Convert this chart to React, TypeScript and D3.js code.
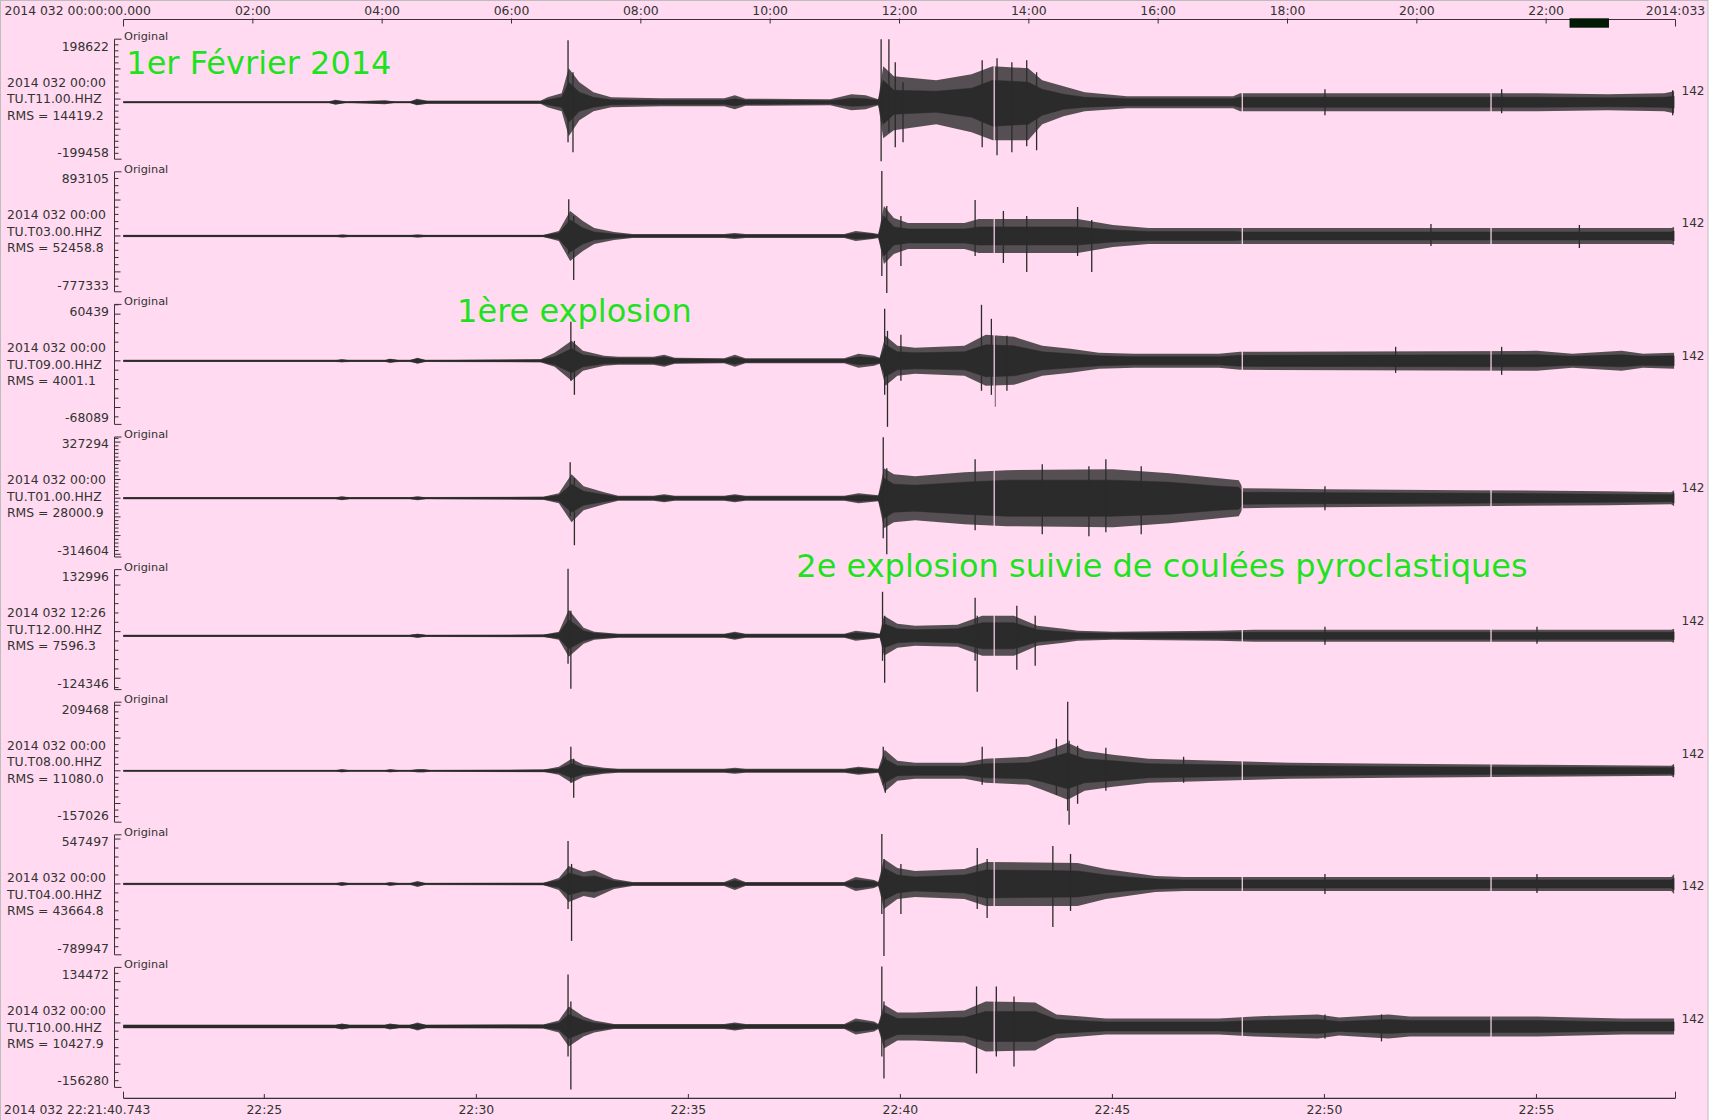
import React, { useEffect } from "react";
import * as d3 from "d3";

// ---------- DATA ----------
const stations = ["TU.T11.00.HHZ", "TU.T03.00.HHZ", "TU.T09.00.HHZ", "TU.T01.00.HHZ", "TU.T12.00.HHZ", "TU.T08.00.HHZ", "TU.T04.00.HHZ", "TU.T10.00.HHZ"];
const startLabels = ["2014 032 00:00", "2014 032 00:00", "2014 032 00:00", "2014 032 00:00", "2014 032 12:26", "2014 032 00:00", "2014 032 00:00", "2014 032 00:00"];
const rmsValues = [14419.2, 52458.8, 4001.1, 28000.9, 7596.3, 11080.0, 43664.8, 10427.9];
const maxValues = [198622, 893105, 60439, 327294, 132996, 209468, 547497, 134472];
const minValues = [-199458, -777333, -68089, -314604, -124346, -157026, -789947, -156280];
const baselineValues = [-10500, 0, 0, 0, -9000, 0, 0, -8500];
const rightLabels = ["142", "142", "142", "142", "142", "142", "142", "142"];
const gapTimes = [1232, 1583, 1935]; // seconds after window start

const topAxisFirst = "2014 032 00:00:00.000";
const topAxisLast = "2014:033";
const bottomAxisFirst = "2014 032 22:21:40.743";
const windowSeconds = 2196;
const traceEnd = 2194;

const annotations = [
  { text: "1er Février 2014", t: 4, panel: 0, dy: 35 },
  { text: "1ère explosion", t: 472, panel: 2, dy: 17.2 },
  { text: "2e explosion suivie de coulées pyroclastiques", t: 952, panel: 4, dy: 7.6 },
];

type E = [number, number, number, number, number];
// envelope keypoints: [seconds, dense core above, dense core below, peaks above, peaks below] in counts (relative to trace baseline)
const envT11: E[] = [
  [0, 2000, 2000, 2000, 2000], [290, 2000, 2000, 2000, 2000], [300, 5000, 5000, 8300, 8300], [315, 2000, 2000, 2000, 2000],
  [370, 3300, 3300, 6600, 6600], [385, 2000, 2000, 2000, 2000], [405, 2000, 2000, 2000, 2000], [415, 6600, 6600, 11600, 10000],
  [430, 3300, 3300, 5000, 5000], [590, 3300, 3300, 5000, 5000], [600, 8300, 8300, 16600, 16600], [620, 16600, 16600, 29900, 29900],
  [630, 66300, 66300, 112800, 112800], [645, 33200, 29900, 66300, 59700], [665, 16600, 16600, 33200, 29900], [690, 8300, 8300, 16600, 16600],
  [760, 6600, 6600, 13300, 13300], [850, 6600, 6600, 13300, 13300], [865, 11600, 11600, 23200, 23200], [880, 6600, 6600, 11600, 11600],
  [1000, 5000, 5000, 10000, 10000], [1030, 13300, 13300, 26500, 26500], [1050, 11600, 11600, 23200, 23200], [1068, 6600, 6600, 10000, 10000],
  [1075, 73000, 73000, 119400, 119400], [1090, 39800, 39800, 86200, 92900], [1150, 36500, 33200, 73000, 73000], [1200, 46400, 49800, 92900, 99500],
  [1230, 73000, 79600, 119400, 126000], [1280, 66300, 73000, 112800, 126000], [1300, 43100, 43100, 73000, 73000], [1330, 26500, 23200, 53100, 46400],
  [1360, 16600, 16600, 33200, 29900], [1420, 11600, 11600, 19900, 19900], [1570, 11600, 11600, 19900, 19900], [1580, 16600, 16600, 29900, 29900],
  [2000, 16600, 16600, 29900, 29900], [2100, 14900, 14900, 26500, 26500], [2180, 16600, 16600, 29900, 29900], [2194, 19900, 19900, 36500, 36500],
];
const envT03: E[] = [
  [0, 9700, 9700, 9700, 9700], [300, 9700, 9700, 9700, 9700], [310, 13900, 13900, 20900, 20900], [320, 9700, 9700, 9700, 9700],
  [405, 9700, 9700, 9700, 9700], [416, 13900, 13900, 20900, 20900], [428, 9700, 9700, 9700, 9700], [594, 9700, 9700, 13900, 13900],
  [616, 41800, 41800, 69600, 69600], [632, 222700, 222700, 348000, 348000], [650, 111400, 111400, 208800, 208800], [666, 55700, 55700, 111400, 111400],
  [694, 27800, 27800, 55700, 55700], [720, 13900, 13900, 27800, 27800], [850, 13900, 13900, 27800, 27800], [865, 20900, 20900, 41800, 41800],
  [880, 13900, 13900, 27800, 27800], [1020, 13900, 13900, 27800, 27800], [1036, 41800, 41800, 69600, 69600], [1060, 27800, 27800, 41800, 41800],
  [1068, 13900, 13900, 27800, 27800], [1076, 278400, 278400, 417600, 389800], [1090, 125300, 125300, 250600, 250600], [1110, 97400, 97400, 181000, 181000],
  [1190, 97400, 97400, 181000, 181000], [1210, 125300, 125300, 236600, 236600], [1350, 125300, 125300, 236600, 236600], [1400, 83500, 83500, 153100, 153100],
  [1450, 62600, 62600, 111400, 111400], [1570, 62600, 62600, 111400, 111400], [1585, 55700, 55700, 111400, 111400], [2190, 55700, 55700, 111400, 111400],
  [2194, 69600, 69600, 125300, 125300],
];
const envT09: E[] = [
  [0, 750, 750, 750, 750], [300, 750, 750, 750, 750], [309, 1100, 1100, 1600, 1600], [320, 750, 750, 750, 750], [370, 750, 750, 750, 750],
  [377, 1600, 1600, 2100, 2100], [390, 750, 750, 750, 750], [405, 750, 750, 750, 750], [416, 2100, 2100, 3200, 3200], [428, 750, 750, 750, 750],
  [590, 1100, 1100, 1600, 1600], [610, 4300, 4300, 8600, 6400], [634, 12900, 12900, 21400, 21400], [650, 6400, 6400, 10700, 10700],
  [680, 3200, 3200, 5400, 5400], [700, 2700, 2700, 4300, 4300], [750, 2700, 2700, 4300, 4300], [765, 4300, 4300, 6400, 6400],
  [780, 2100, 2100, 3200, 3200], [850, 1600, 1600, 2700, 2700], [865, 3700, 3700, 6400, 6400], [880, 1600, 1600, 2700, 2700],
  [1020, 1600, 1600, 2700, 2700], [1040, 4300, 4300, 7500, 7500], [1062, 3200, 3200, 5400, 5400], [1070, 2100, 2100, 3200, 3200],
  [1078, 17100, 17100, 26800, 26800], [1095, 9600, 9600, 16100, 16100], [1120, 8600, 8600, 13900, 13900], [1190, 9600, 9600, 16100, 16100],
  [1220, 17100, 17100, 27800, 26800], [1260, 16100, 16100, 25700, 25700], [1300, 9600, 9600, 16100, 16100], [1340, 7500, 7500, 12900, 12900],
  [1380, 5400, 5400, 8600, 8600], [1430, 4300, 4300, 7500, 7500], [1550, 4300, 4300, 7500, 7500], [1580, 5900, 5900, 9600, 9600],
  [2000, 6400, 6400, 10700, 10700], [2050, 4800, 4800, 7500, 7500], [2120, 6400, 6400, 10700, 10700], [2150, 4800, 4800, 7500, 7500],
  [2194, 5400, 5400, 8600, 8600],
];
const envT01: E[] = [
  [0, 3700, 3700, 3700, 3700], [300, 3700, 3700, 3700, 3700], [309, 5300, 5300, 10700, 10700], [320, 3700, 3700, 3700, 3700],
  [405, 3700, 3700, 3700, 3700], [416, 5300, 5300, 10700, 10700], [428, 3700, 3700, 3700, 3700], [594, 5300, 5300, 8000, 8000],
  [616, 16000, 16000, 26700, 26700], [634, 74900, 74900, 128400, 128400], [651, 37400, 37400, 64200, 64200], [680, 18700, 18700, 32100, 32100],
  [700, 8000, 8000, 13400, 13400], [750, 8000, 8000, 13400, 13400], [765, 13400, 13400, 21400, 21400], [780, 8000, 8000, 13400, 13400],
  [850, 8000, 8000, 13400, 13400], [865, 13400, 13400, 21400, 21400], [880, 8000, 8000, 13400, 13400], [1020, 8000, 8000, 13400, 13400],
  [1040, 16000, 16000, 26700, 26700], [1068, 10700, 10700, 16000, 16000], [1076, 107000, 107000, 160500, 160500], [1090, 74900, 74900, 128400, 128400],
  [1120, 69500, 69500, 117700, 117700], [1190, 85600, 85600, 139100, 139100], [1250, 96300, 96300, 149800, 149800], [1400, 96300, 96300, 155100, 155100],
  [1480, 85600, 85600, 133700, 133700], [1550, 64200, 64200, 107000, 107000], [1578, 58800, 58800, 96300, 96300], [1584, 32100, 32100, 53500, 53500],
  [1700, 29400, 29400, 48100, 48100], [1900, 26700, 26700, 42800, 42800], [2100, 21400, 21400, 37400, 37400], [2190, 18700, 18700, 32100, 32100],
  [2194, 26700, 26700, 42800, 42800],
];
const envT12: E[] = [
  [0, 1500, 1500, 1500, 1500], [405, 1500, 1500, 1500, 1500], [416, 3200, 3200, 4300, 4300], [428, 1500, 1500, 1500, 1500],
  [594, 2100, 2100, 2100, 2100], [616, 5400, 5400, 8600, 8600], [630, 34300, 27900, 55800, 45000], [651, 10700, 10700, 17200, 17200],
  [666, 5400, 5400, 8600, 8600], [700, 2600, 2600, 4300, 4300], [850, 2600, 2600, 4300, 4300], [865, 5400, 5400, 8600, 8600],
  [880, 2600, 2600, 4300, 4300], [1020, 2600, 2600, 4300, 4300], [1036, 6400, 6400, 10700, 10700], [1062, 4300, 4300, 6400, 6400],
  [1070, 2600, 2600, 4300, 4300], [1076, 25700, 25700, 42900, 42900], [1095, 15000, 15000, 25700, 25700], [1120, 12900, 12900, 21400, 21400],
  [1180, 15000, 15000, 23600, 23600], [1215, 27900, 27900, 42900, 42900], [1260, 27900, 27900, 42900, 42900], [1293, 12900, 12900, 21400, 21400],
  [1330, 8600, 8600, 15000, 15000], [1350, 6400, 6400, 10700, 10700], [1400, 5400, 5400, 8600, 8600], [1550, 6400, 6400, 10700, 10700],
  [1600, 7500, 7500, 12900, 12900], [2190, 7500, 7500, 12900, 12900], [2194, 8600, 8600, 15000, 15000],
];
const envT08: E[] = [
  [0, 1500, 1500, 1500, 1500], [300, 1500, 1500, 1500, 1500], [309, 3100, 3100, 4600, 4600], [320, 1500, 1500, 1500, 1500],
  [370, 1500, 1500, 1500, 1500], [377, 3100, 3100, 4600, 4600], [390, 1500, 1500, 1500, 1500], [405, 1500, 1500, 1500, 1500],
  [416, 3100, 3100, 4600, 4600], [425, 3100, 3100, 4600, 4600], [435, 1500, 1500, 1500, 1500], [594, 3100, 3100, 3100, 3100],
  [616, 6100, 6100, 12200, 12200], [634, 21400, 21400, 36600, 36600], [651, 10700, 10700, 18300, 18300], [680, 4600, 4600, 9200, 9200],
  [700, 3100, 3100, 6100, 6100], [850, 3100, 3100, 6100, 6100], [865, 4600, 4600, 9200, 9200], [880, 3100, 3100, 6100, 6100],
  [1020, 3100, 3100, 6100, 6100], [1040, 7600, 7600, 12200, 12200], [1068, 3100, 3100, 6100, 6100], [1077, 36600, 36600, 64100, 64100],
  [1095, 15300, 15300, 30500, 30500], [1120, 13700, 13700, 24400, 24400], [1190, 13700, 13700, 24400, 24400], [1220, 21400, 21400, 36600, 36600],
  [1280, 24400, 24400, 42800, 42800], [1300, 33600, 33600, 55000, 58000], [1336, 55000, 55000, 85500, 88600], [1360, 36600, 36600, 61100, 61100],
  [1400, 30500, 30500, 48900, 48900], [1450, 21400, 21400, 36600, 36600], [1550, 18300, 18300, 30500, 30500], [1650, 15300, 15300, 24400, 24400],
  [1800, 12200, 12200, 21400, 21400], [2000, 10700, 10700, 18300, 18300], [2190, 9200, 9200, 15300, 15300], [2194, 12200, 12200, 21400, 21400],
];
const envT04: E[] = [
  [0, 7800, 7800, 7800, 7800], [300, 7800, 7800, 7800, 7800], [309, 11100, 11100, 22300, 22300], [320, 7800, 7800, 7800, 7800],
  [370, 7800, 7800, 7800, 7800], [377, 11100, 11100, 22300, 22300], [390, 7800, 7800, 7800, 7800], [405, 7800, 7800, 7800, 7800],
  [416, 16700, 16700, 33400, 33400], [428, 7800, 7800, 7800, 7800], [594, 11100, 11100, 11100, 11100], [616, 39000, 39000, 66900, 66900],
  [630, 122600, 122600, 200600, 200600], [651, 78000, 78000, 133700, 133700], [666, 89200, 89200, 156000, 156000], [694, 33400, 33400, 55700, 55700],
  [720, 11100, 11100, 22300, 22300], [850, 11100, 11100, 22300, 22300], [865, 39000, 39000, 66900, 66900], [880, 11100, 11100, 22300, 22300],
  [1020, 11100, 11100, 22300, 22300], [1036, 44600, 44600, 78000, 78000], [1062, 27900, 27900, 44600, 44600], [1068, 11100, 11100, 22300, 22300],
  [1076, 178300, 178300, 278600, 278600], [1095, 100300, 100300, 178300, 167200], [1120, 78000, 78000, 144900, 144900], [1190, 100300, 100300, 167200, 167200],
  [1220, 156000, 156000, 245200, 245200], [1350, 144900, 144900, 234000, 245200], [1390, 100300, 100300, 167200, 167200], [1420, 78000, 78000, 133700, 133700],
  [1460, 55700, 55700, 89200, 89200], [1500, 44600, 44600, 78000, 78000], [2190, 44600, 44600, 78000, 78000], [2194, 66900, 66900, 111400, 111400],
];
const envT10: E[] = [
  [0, 3600, 3600, 3600, 3600], [300, 3600, 3600, 3600, 3600], [309, 4800, 4800, 7300, 7300], [320, 3600, 3600, 3600, 3600],
  [370, 3600, 3600, 3600, 3600], [377, 4800, 4800, 7300, 7300], [390, 3600, 3600, 3600, 3600], [405, 3600, 3600, 3600, 3600],
  [416, 6100, 6100, 9700, 9700], [428, 3600, 3600, 3600, 3600], [594, 3600, 3600, 4800, 4800], [616, 8500, 8500, 14500, 14500],
  [630, 29100, 29100, 48500, 48500], [651, 14500, 14500, 24200, 24200], [666, 8500, 8500, 14500, 14500], [694, 3600, 3600, 6100, 6100],
  [850, 3600, 3600, 6100, 6100], [865, 6100, 6100, 9700, 9700], [880, 3600, 3600, 6100, 6100], [1020, 3600, 3600, 6100, 6100],
  [1036, 12100, 12100, 19400, 19400], [1062, 7300, 7300, 12100, 12100], [1068, 3600, 3600, 6100, 6100], [1076, 33900, 33900, 53300, 53300],
  [1095, 19400, 19400, 33900, 33900], [1120, 19400, 19400, 33900, 33900], [1190, 21800, 21800, 38800, 38800], [1220, 36300, 36300, 60600, 60600],
  [1290, 36300, 36300, 58200, 58200], [1320, 17000, 17000, 29100, 29100], [1390, 10900, 10900, 19400, 19400], [1550, 10900, 10900, 19400, 19400],
  [1600, 14500, 14500, 24200, 24200], [1690, 17000, 17000, 29100, 29100], [1720, 12100, 12100, 21800, 21800], [1790, 17000, 17000, 29100, 29100],
  [1820, 14500, 14500, 24200, 24200], [2000, 14500, 14500, 24200, 24200], [2120, 10900, 10900, 19400, 19400], [2194, 10900, 10900, 19400, 19400],
];

// isolated peaks: [seconds, peak above baseline, peak below baseline] in counts
const spkT11: [number, number, number][] = [
  [629, 205700, 133000], [636, 99500, 165900], [1072, 209000, 195700], [1083, 209000, 99500], [1092, 132700, 149300],
  [1103, 66300, 132700], [1215, 139300, 149300], [1236, 146000, 175800], [1257, 132700, 165900], [1278, 139300, 146000],
  [1292, 99500, 159200], [1700, 43100, 43100], [1950, 43100, 36500], [2192, 39800, 43100],
];
const spkT03: [number, number, number][] = [
  [630, 510900, 250600], [637, 278400, 612500], [1073, 904800, 557000], [1080, 417600, 793400], [1100, 278400, 417600],
  [1205, 501000, 278400], [1245, 348000, 375800], [1278, 278400, 501100], [1350, 403700, 278400], [1370, 222700, 501100],
  [1850, 167000, 139200], [2060, 153100, 167000],
];
const spkT09: [number, number, number][] = [
  [633, 41800, 21400], [638, 21400, 36400], [1077, 55700, 36400], [1081, 32100, 70700], [1100, 27800, 21400],
  [1214, 60000, 32100], [1228, 45000, 36400], [1233, 25700, 49300], [1250, 26800, 32100], [1800, 15000, 12900],
  [1950, 15000, 15000],
];
const spkT01: [number, number, number][] = [
  [632, 192600, 96300], [638, 107000, 251400], [1075, 326300, 214000], [1080, 160500, 299500], [1205, 208600, 171200],
  [1300, 181900, 192600], [1366, 171200, 203300], [1390, 208600, 181900], [1440, 171200, 192600], [1700, 64200, 64200],
];
const spkT12: [number, number, number][] = [
  [629, 143700, 60000], [633, 53600, 113700], [1074, 94400, 53600], [1077, 42900, 100800], [1205, 81500, 53600],
  [1208, 42900, 120100], [1264, 64400, 72900], [1290, 42900, 64400], [1700, 19300, 19300], [2000, 19300, 17200],
];
const spkT08: [number, number, number][] = [
  [633, 73300, 36600], [637, 36600, 82500], [1075, 73300, 42800], [1078, 42800, 67200], [1215, 73300, 42800],
  [1320, 97700, 73300], [1336, 210700, 122200], [1338, 91600, 164900], [1350, 76400, 100800], [1390, 70200, 61100],
  [1500, 42800, 36600],
];
const spkT04: [number, number, number][] = [
  [629, 479200, 278600], [634, 222900, 635300], [1073, 557200, 334300], [1076, 278600, 802400], [1100, 222900, 334300],
  [1208, 401200, 278600], [1222, 278600, 378900], [1315, 423500, 479200], [1340, 334300, 300900], [1700, 111400, 111400],
  [2000, 111400, 100300],
];
const spkT10: [number, number, number][] = [
  [629, 126000, 72700], [633, 60600, 152600], [1073, 145400, 72700], [1076, 60600, 126000], [1207, 96900, 113900],
  [1235, 96900, 72700], [1260, 72700, 96900], [1700, 29100, 29100], [1780, 29100, 36300],
];

const envelopes = [envT11, envT03, envT09, envT01, envT12, envT08, envT04, envT10];
const spikes = [spkT11, spkT03, spkT09, spkT01, spkT12, spkT08, spkT04, spkT10];

// ---------- HELPERS ----------
function tickStep(range: number): number {
  let best = 1;
  for (let n = 0; n < 9; n++) {
    for (const m of [1, 2]) {
      const s = m * Math.pow(10, n);
      if (range / s >= 10) best = s;
    }
  }
  return best;
}

const FONT = "DejaVu Sans";
const TXT = "#333333";
const TRACE = "#2b2b2b";
const BG = "#ffdaf0";
const GREEN = "#1fe21f";

export default function App() {
  useEffect(() => {
    document.body.style.margin = "0";
  }, []);

  const W = 1711;
  const H = 1120;
  const xLeft = 123.5;
  const xRight = 1675.5;
  const axisX = 114.5;
  const panelTop0 = 39.2;
  const panelStep = 132.6;
  const panelH = 120;

  const x = d3.scaleLinear().domain([0, windowSeconds]).range([xLeft, xRight]);
  const dayStart = new Date(Date.UTC(2014, 1, 1, 0, 0, 0));
  const dayEnd = new Date(Date.UTC(2014, 1, 2, 0, 0, 0));
  const dayScale = d3.scaleUtc().domain([dayStart, dayEnd]).range([xLeft, xRight]);
  const winStart = new Date(Date.UTC(2014, 1, 1, 22, 21, 40, 743));
  const winEnd = new Date(winStart.getTime() + windowSeconds * 1000);
  const winScale = d3.scaleUtc().domain([winStart, winEnd]).range([xLeft, xRight]);
  const hm = d3.utcFormat("%H:%M");

  const topTicks = dayScale.ticks(d3.utcHour.every(2)!);
  const botTicks = winScale.ticks(d3.utcMinute.every(5)!);

  const topY = 19.5;
  const botY = 1098.3;

  return (
    <svg width={W} height={H} style={{ position: "absolute", left: 0, top: 0, display: "block" }} fontFamily={FONT}>
      <rect x={0} y={0} width={W} height={H} fill="#ffffff" />
      <rect x={0.5} y={0.5} width={1707.5} height={H} fill={BG} stroke="#bdbdbd" strokeWidth={1} />

      {/* top (day) axis */}
      <line x1={xLeft} x2={xRight} y1={topY} y2={topY} stroke={TXT} strokeWidth={1.2} />
      {topTicks.map((d, i) => {
        const px = dayScale(d);
        const isEnd = i === 0 || i === topTicks.length - 1;
        return <line key={"tt" + i} x1={px} x2={px} y1={isEnd ? topY : topY - 1} y2={isEnd ? topY + 7 : topY + 4} stroke={TXT} strokeWidth={1} />;
      })}
      {topTicks.map((d, i) => {
        if (i === 0) return null;
        const last = i === topTicks.length - 1;
        return (
          <text key={"tl" + i} x={dayScale(d)} y={15} fontSize={12.4} fill={TXT} textAnchor="middle">
            {last ? topAxisLast : hm(d)}
          </text>
        );
      })}
      <text x={4.5} y={15} fontSize={12.4} fill={TXT}>{topAxisFirst}</text>
      <rect x={dayScale(winStart)} y={18.3} width={dayScale(winEnd) - dayScale(winStart)} height={9.4} fill="#001a06" />

      {/* panels */}
      {stations.map((st, i) => {
        const top = panelTop0 + i * panelStep;
        const bottom = top + panelH;
        const y = d3.scaleLinear().domain([minValues[i], maxValues[i]]).range([bottom, top]);
        const base = baselineValues[i];
        const step = tickStep(maxValues[i] - minValues[i]);
        const ticks = d3.range(Math.ceil(minValues[i] / step), Math.floor(maxValues[i] / step) + 1).map((k) => k * step);
        const coreArea = d3
          .area<E>()
          .x((d) => x(d[0]))
          .y0((d) => y(base - d[2]))
          .y1((d) => y(base + d[1]));
        const peakArea = d3
          .area<E>()
          .x((d) => x(d[0]))
          .y0((d) => y(base - d[4]))
          .y1((d) => y(base + d[3]));
        return (
          <g key={st}>
            {/* y axis */}
            <line x1={axisX} x2={axisX} y1={top} y2={bottom} stroke={TXT} strokeWidth={1} />
            <line x1={axisX} x2={axisX + 7} y1={top} y2={top} stroke={TXT} strokeWidth={1} />
            <line x1={axisX} x2={axisX + 7} y1={bottom} y2={bottom} stroke={TXT} strokeWidth={1} />
            {ticks.map((v) => {
              const major = Math.round(v / step) % 5 === 0;
              return <line key={v} x1={axisX} x2={axisX + (major ? 6 : 4)} y1={y(v)} y2={y(v)} stroke={TXT} strokeWidth={1} />;
            })}
            <text x={109} y={top + 11.4} fontSize={12.4} fill={TXT} textAnchor="end">{maxValues[i]}</text>
            <text x={109} y={bottom - 2} fontSize={12.4} fill={TXT} textAnchor="end">{minValues[i]}</text>
            <text x={124} y={top + 1} fontSize={11.3} fill={TXT}>Original</text>
            <text x={7} y={top + 47.4} fontSize={12.4} fill={TXT}>{startLabels[i]}</text>
            <text x={7} y={top + 64.2} fontSize={12.4} fill={TXT}>{st}</text>
            <text x={7} y={top + 80.4} fontSize={12.4} fill={TXT}>{"RMS = " + rmsValues[i].toFixed(1)}</text>
            <text x={1681.5} y={top + 55.4} fontSize={12} fill={TXT}>{rightLabels[i]}</text>

            {/* trace */}
            <line x1={x(0)} x2={x(traceEnd)} y1={y(base)} y2={y(base)} stroke={TRACE} strokeWidth={1.3} />
            <path d={peakArea(envelopes[i]) || ""} fill={TRACE} fillOpacity={0.8} stroke="none" />
            <path d={coreArea(envelopes[i]) || ""} fill={TRACE} stroke={TRACE} strokeWidth={0.5} />
            {spikes[i].map((s, k) => (
              <line key={k} x1={x(s[0])} x2={x(s[0])} y1={y(base + s[1])} y2={y(base - s[2])} stroke={TRACE} strokeWidth={1.3} />
            ))}
            {gapTimes.map((g) => (
              <line key={"g" + g} x1={x(g)} x2={x(g)} y1={top + 2} y2={bottom - 2} stroke={BG} strokeWidth={1.2} />
            ))}
          </g>
        );
      })}

      {/* bottom (window) axis */}
      <line x1={xLeft} x2={xRight} y1={botY} y2={botY} stroke={TXT} strokeWidth={1.2} />
      <line x1={xLeft} x2={xLeft} y1={botY - 6.6} y2={botY} stroke={TXT} strokeWidth={1} />
      <line x1={xRight} x2={xRight} y1={botY - 6.6} y2={botY} stroke={TXT} strokeWidth={1} />
      {botTicks.map((d, i) => (
        <g key={"bt" + i}>
          <line x1={winScale(d)} x2={winScale(d)} y1={botY - 4.3} y2={botY} stroke={TXT} strokeWidth={1} />
          <text x={winScale(d)} y={1113.5} fontSize={12.4} fill={TXT} textAnchor="middle">{hm(d)}</text>
        </g>
      ))}
      <text x={4} y={1113.5} fontSize={12.4} fill={TXT}>{bottomAxisFirst}</text>

      {/* annotations */}
      {annotations.map((a) => (
        <text key={a.text} x={x(a.t)} y={panelTop0 + a.panel * panelStep + a.dy} fontSize={32} fill={GREEN}>
          {a.text}
        </text>
      ))}
    </svg>
  );
}
